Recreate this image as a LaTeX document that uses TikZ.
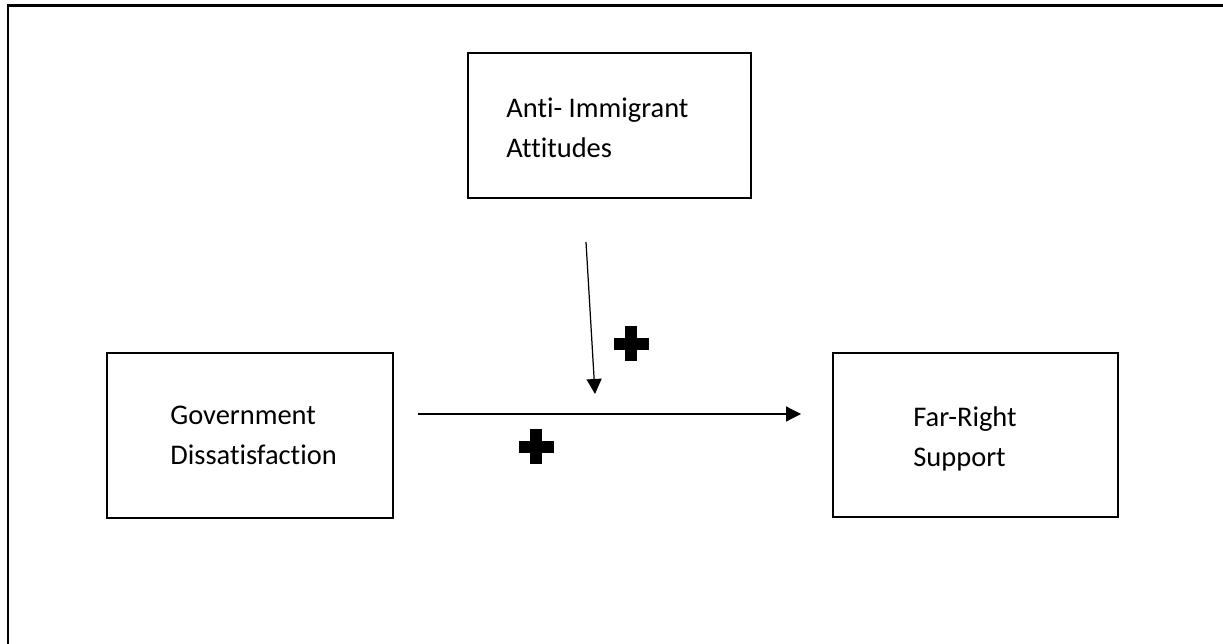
\documentclass[tikz,border=0pt]{standalone}
\usepackage{fontspec}
\setmainfont{Carlito}[Ligatures=NoCommon]
\usetikzlibrary{arrows.meta}

\tikzset{
  varbox/.style={draw,line width=1.4pt,inner sep=0},
  lbl/.style={anchor=base west,inner sep=0,font=\fontsize{16.2}{22.8}\selectfont},
  effect/.style={line width=0.7pt,-{Triangle[length=0.3cm,width=0.3cm]}},
  plusmark/.pic={\fill (-6,-17.5) rectangle (6,17.5); \fill (-17.5,-6) rectangle (17.5,6);}
}

\begin{document}
\begin{tikzpicture}[x=0.02cm,y=-0.02cm]
 \useasboundingbox (0,0) rectangle (1223,644);
 % frame
 \draw[line width=1.7pt](8,644)--(8,6)--(1223,6);
 % boxes
 \node[varbox,minimum width=5.66cm,minimum height=2.9cm] (anti) at (609.5,125.5) {};
 \node[varbox,minimum width=5.72cm,minimum height=3.3cm] (gov) at (250,435.5) {};
 \node[varbox,minimum width=5.7cm,minimum height=3.28cm] (far) at (975.5,435) {};
 % labels
 \node[lbl] (anti1) at (506,118) {Anti- Immigrant};
 \node[lbl] (anti2) at (506,158) {Attitudes};
 \node[lbl] (gov1) at (170,425) {Government};
 \node[lbl] (gov2) at (170,465) {Dissatisfaction};
 \node[lbl] (far1) at (913,427) {Far-Right};
 \node[lbl] (far2) at (913,467) {Support};
 % arrows
 \coordinate (mainstart) at (418,414);
 \coordinate (mainend) at (801,414);
 \coordinate (modstart) at (586,242);
 \coordinate (modend) at (595,394);
 \draw[effect](mainstart)--(mainend);
 \draw[effect](modstart)--(modend);
 % signs
 \pic at (631,344) {plusmark};
 \pic at (536,447) {plusmark};
\end{tikzpicture}
\end{document}
